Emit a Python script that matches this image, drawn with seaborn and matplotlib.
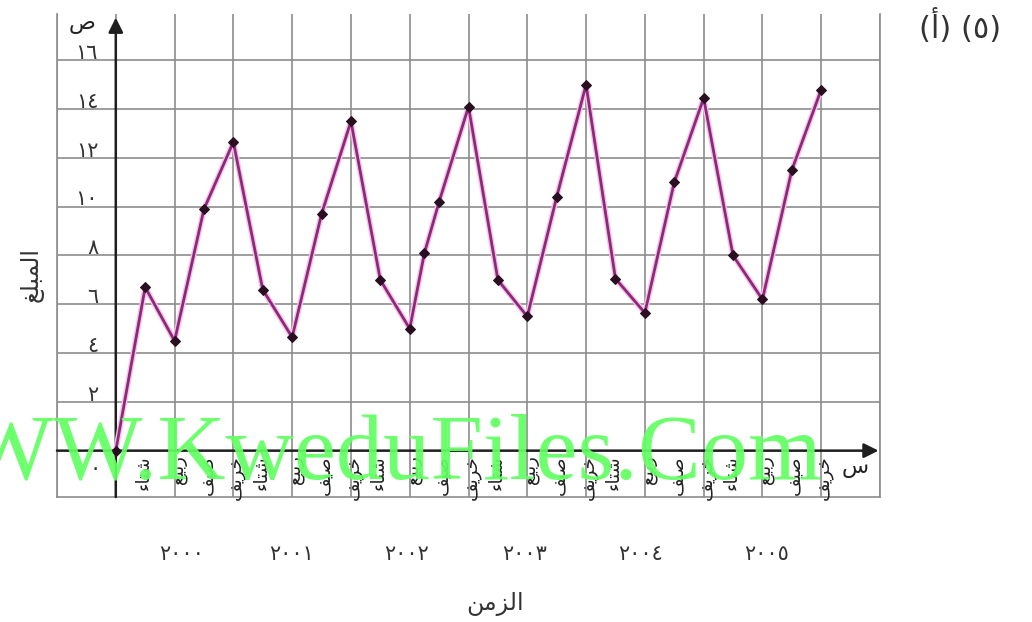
import matplotlib
matplotlib.use("Agg")
import matplotlib.pyplot as plt
import seaborn as sns
import pandas as pd

# ---------------- data ----------------
quarter_pos = [0, 1, 2, 3, 4, 5, 6, 7, 8, 9, 10, 10.5, 11, 12,
               13, 14, 15, 16, 17, 18, 19, 20, 21, 22, 23, 24]
amounts = [0, 6.7, 4.5, 9.9, 12.65, 6.6, 4.65, 9.7, 13.5, 7.0, 5.0, 8.1, 10.2, 14.1,
           7.0, 5.5, 10.4, 15.0, 7.05, 5.65, 11.0, 14.45, 8.0, 6.2, 11.5, 14.8]
years = ["2000", "2001", "2002", "2003", "2004", "2005"]
year_label_x = [2.25, 6.0, 9.9, 13.9, 17.85, 22.15]
seasons = ["شتاء", "ربيع", "صيف", "خريف"]
y_ticks = [2, 4, 6, 8, 10, 12, 14, 16]
y_label = "المبلغ"
x_label = "الزمن"
watermark = "WWW.KweduFiles.Com"

# ---------------- simple Arabic shaping ----------------
FORMS = {
    'ا': ('\uFE8D', '\uFE8E', None, None),
    'أ': ('\uFE83', '\uFE84', None, None),
    'ء': ('\uFE80', None, None, None),
    'ب': ('\uFE8F', '\uFE90', '\uFE91', '\uFE92'),
    'ت': ('\uFE95', '\uFE96', '\uFE97', '\uFE98'),
    'خ': ('\uFEA5', '\uFEA6', '\uFEA7', '\uFEA8'),
    'ر': ('\uFEAD', '\uFEAE', None, None),
    'ز': ('\uFEAF', '\uFEB0', None, None),
    'س': ('\uFEB1', '\uFEB2', '\uFEB3', '\uFEB4'),
    'ش': ('\uFEB5', '\uFEB6', '\uFEB7', '\uFEB8'),
    'ص': ('\uFEB9', '\uFEBA', '\uFEBB', '\uFEBC'),
    'ع': ('\uFEC9', '\uFECA', '\uFECB', '\uFECC'),
    'غ': ('\uFECD', '\uFECE', '\uFECF', '\uFED0'),
    'ف': ('\uFED1', '\uFED2', '\uFED3', '\uFED4'),
    'ل': ('\uFEDD', '\uFEDE', '\uFEDF', '\uFEE0'),
    'م': ('\uFEE1', '\uFEE2', '\uFEE3', '\uFEE4'),
    'ن': ('\uFEE5', '\uFEE6', '\uFEE7', '\uFEE8'),
    'ي': ('\uFEF1', '\uFEF2', '\uFEF3', '\uFEF4'),
}


def shape(word):
    out = []
    n = len(word)
    for i, c in enumerate(word):
        if c not in FORMS:
            out.append(c)
            continue
        iso, fin, ini, med = FORMS[c]
        prev = word[i - 1] if i > 0 else None
        nxt = word[i + 1] if i < n - 1 else None
        jp = prev in FORMS and FORMS[prev][2] is not None and fin is not None
        jn = nxt in FORMS and ini is not None and FORMS[nxt][1] is not None
        if jp and jn:
            g = med
        elif jp:
            g = fin
        elif jn:
            g = ini
        else:
            g = iso
        out.append(g)
    return "".join(reversed(out))


AR_DIGITS = str.maketrans("0123456789", "٠١٢٣٤٥٦٧٨٩")


def ar_num(s):
    return str(s).translate(AR_DIGITS)


# ---------------- figure ----------------
sns.set_style("white")
plt.rcParams['font.family'] = ['DejaVu Sans']

W, H = 1032, 622
fig = plt.figure(figsize=(W / 100, H / 100), dpi=100)
ax = fig.add_axes([57 / W, (H - 497) / H, 823 / W, 483 / H])
ax.set_xlim(-2, 26)
ax.set_ylim(-1.9, 17.9)

grid_c = '#8c8c8c'
ax.set_xticks(range(-2, 27, 2))
ax.set_yticks(y_ticks)
ax.tick_params(length=0, labelbottom=False, labelleft=False)
ax.grid(True, color=grid_c, lw=1.2)
for s in ['left', 'right', 'bottom']:
    ax.spines[s].set_color(grid_c)
    ax.spines[s].set_linewidth(1.2)
ax.spines['top'].set_visible(False)

# main axes with arrows
ax.annotate('', xy=(25.95, 0), xytext=(-2, 0),
            arrowprops=dict(arrowstyle='-|>', color='#1e1e1e', lw=1.8,
                            mutation_scale=22, shrinkA=0, shrinkB=0),
            annotation_clip=False, zorder=4)
ax.annotate('', xy=(0, 17.75), xytext=(0, -1.9),
            arrowprops=dict(arrowstyle='-|>', color='#1e1e1e', lw=1.8,
                            mutation_scale=22, shrinkA=0, shrinkB=0),
            annotation_clip=False, zorder=4)

df = pd.DataFrame({"quarter": quarter_pos, "amount": amounts})
# soft pink halo under the line
sns.lineplot(data=df, x="quarter", y="amount", ax=ax, sort=False,
             color='#f6c2ea', lw=4.0, zorder=5, legend=False)
sns.lineplot(data=df, x="quarter", y="amount", ax=ax, sort=False,
             color='#8c2a79', lw=2.0, marker='D', markersize=5,
             markerfacecolor='#2a0f22', markeredgecolor='#2a0f22',
             zorder=6, legend=False)
ax.set_xlabel("")
ax.set_ylabel("")

# y tick labels (Arabic-Indic digits)
for v in y_ticks:
    ax.text(-0.6, v + 0.3, ar_num(v), ha='right', va='center',
            fontsize=15, color='#333333')
ax.text(-0.5, -0.75, ar_num(0), ha='right', va='center',
        fontsize=15, color='#333333')

# axis letters
ax.text(-1.15, 17.5, 'ص', ha='center', va='center', fontsize=16,
        color='#222222')
ax.text(25.15, -0.7, 'س', ha='center', va='center', fontsize=16,
        color='#222222')

# season labels under each quarter
for i in range(24):
    ax.text(i + 1 + (0.1 if i % 4 else -0.05), -0.18, shape(seasons[i % 4]),
            rotation=90, ha='center', va='top', fontsize=13,
            color='#222222', clip_on=False)

# year labels
for yx, yr in zip(year_label_x, years):
    ax.text(yx, -4.25, ar_num(yr), ha='center', va='center',
            fontsize=15, color='#333333', clip_on=False)

# axis titles
fig.text(495 / W, 1 - 604 / H, shape(x_label), ha='center', va='center',
         fontsize=17, color='#333333')
fig.text(32 / W, 1 - 275 / H, shape(y_label), ha='center', va='center',
         rotation=90, fontsize=17, color='#333333')

# exercise marker
fig.text(960 / W, 1 - 27 / H, '(أ) (٥)', ha='center', va='center',
         fontsize=22, color='#333333')

# watermark
fig.text(823 / W, 1 - 478 / H, watermark, ha='right', va='baseline',
         fontsize=68, family='Liberation Serif', color='#62ff62',
         alpha=0.92, zorder=20)

fig.savefig('out.png', dpi=100)
